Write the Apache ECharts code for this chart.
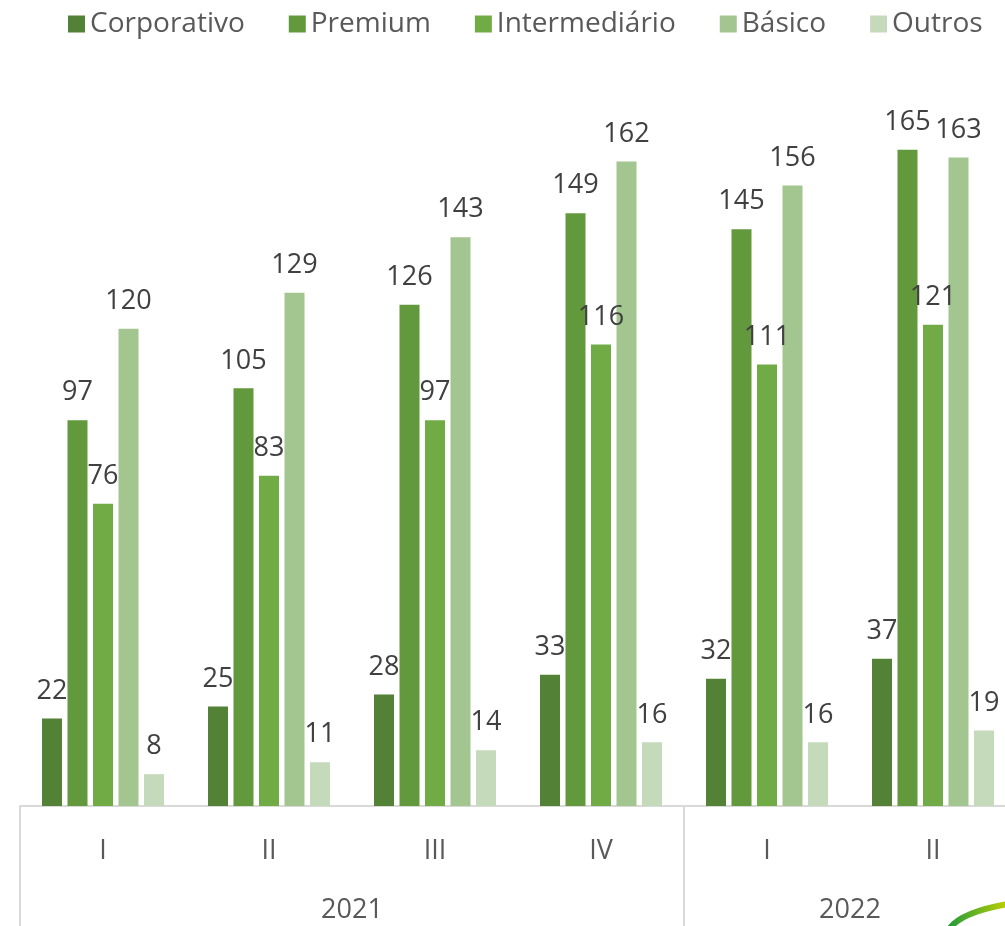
<!DOCTYPE html>
<html>
<head>
<meta charset="utf-8">
<script src="https://cdn.jsdelivr.net/npm/echarts@6/dist/echarts.min.js"></script>
<style>
	html, body { margin: 0; padding: 0; background: #fff; overflow: hidden; }
	/* o gráfico original continua à direita: a área de desenho passa da janela */
	#chart { width: 1030px; height: 926px; }
</style>
</head>
<body>
<div id="chart"></div>
<script>
var quarters = ['I', 'II', 'III', 'IV', 'I', 'II'];
var years = ['2021', '2022'];
var yearSpans = [4, 2]; // quantos trimestres cada ano cobre

var seriesNames = ['Corporativo', 'Premium', 'Intermediário', 'Básico', 'Outros'];
var corporativo = [22, 25, 28, 33, 32, 37];
var premium = [97, 105, 126, 149, 145, 165];
var intermediario = [76, 83, 97, 116, 111, 121];
var basico = [120, 129, 143, 162, 156, 163];
var outros = [8, 11, 14, 16, 16, 19];

var colors = ['#538135', '#62993c', '#70ab46', '#a3c58f', '#c5d9bb'];

window.onload = function () {
	"use strict";
	var chart = echarts.init(document.getElementById('chart'));
	var font = '"Open Sans", sans-serif';

	// limites e centros dos anos no eixo secundário
	var bounds = [0];
	var centers = [];
	var acc = 0;
	for (var i = 0; i < yearSpans.length; i++) {
		centers.push(acc + yearSpans[i] / 2);
		acc += yearSpans[i];
		bounds.push(acc);
	}

	var allData = [corporativo, premium, intermediario, basico, outros];
	var series = seriesNames.map(function (name, idx) {
		return {
			name: name,
			type: 'bar',
			barWidth: 20,
			barGap: '27.5%',
			data: allData[idx],
			itemStyle: { color: colors[idx] },
			label: {
				show: true,
				position: 'top',
				distance: 14,
				color: '#404040',
				fontSize: 27,
				fontFamily: font
			}
		};
	});

	var option = {
		animation: false,
		color: colors,
		legend: {
			left: 63,
			top: 5,
			itemWidth: 17,
			itemHeight: 17,
			itemGap: 44,
			icon: 'rect',
			textStyle: {
				color: '#595959',
				fontSize: 28,
				fontFamily: font
			},
			data: seriesNames
		},
		grid: {
			left: 20,
			right: 14,
			top: 90,
			bottom: 120
		},
		xAxis: [{
			type: 'category',
			data: quarters,
			position: 'bottom',
			axisLine: { lineStyle: { color: '#d9d9d9', width: 2 } },
			axisTick: { show: false },
			axisLabel: {
				margin: 32,
				color: '#595959',
				fontSize: 27,
				fontFamily: font
			}
		}, {
			type: 'value',
			min: 0,
			max: acc,
			position: 'bottom',
			axisLine: { show: false },
			splitLine: { show: false },
			axisTick: {
				show: true,
				customValues: bounds,
				length: 120,
				lineStyle: { color: '#d9d9d9', width: 2 }
			},
			axisLabel: {
				customValues: centers,
				margin: 91,
				color: '#595959',
				fontSize: 27,
				fontFamily: font,
				formatter: function (v) {
					var k = centers.indexOf(v);
					return k >= 0 ? years[k] : '';
				}
			}
		}],
		yAxis: {
			type: 'value',
			min: 0,
			max: 180,
			show: false
		},
		graphic: [{
			type: 'bezierCurve',
			silent: true,
			shape: {
				x1: 950, y1: 928,
				cpx1: 962, cpy1: 912,
				x2: 1008, y2: 904
			},
			style: {
				lineWidth: 6,
				stroke: new echarts.graphic.LinearGradient(0, 0, 1, 0, [
					{ offset: 0, color: '#1f9a3c' },
					{ offset: 1, color: '#c6d300' }
				])
			}
		}],
		series: series
	};

	chart.setOption(option);
};
</script>
</body>
</html>
